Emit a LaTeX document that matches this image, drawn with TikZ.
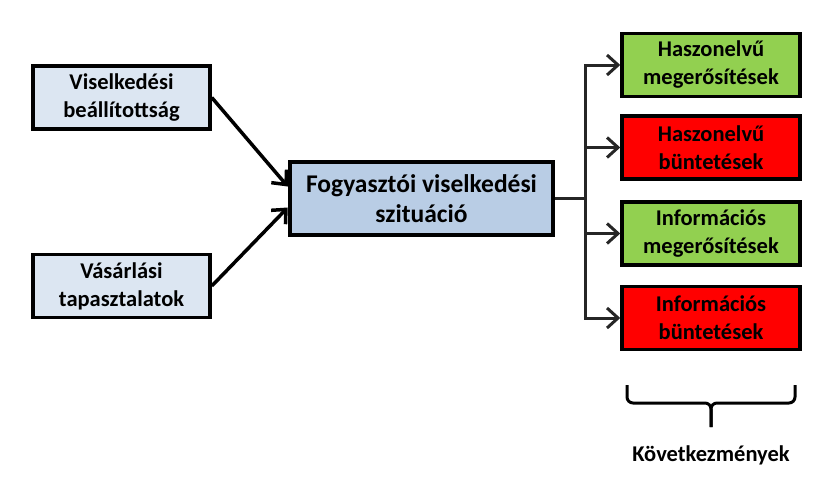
\documentclass[tikz,border=0pt]{standalone}
\usepackage{fontspec}
\setmainfont{Carlito}
\usetikzlibrary{arrows.meta,calc}
\definecolor{inputblue}{RGB}{220,230,242}
\definecolor{sitblue}{RGB}{185,205,229}
\definecolor{rewgreen}{RGB}{146,208,80}
\definecolor{punred}{RGB}{255,0,0}
\definecolor{linegray}{RGB}{38,38,38}

\begin{document}
\begin{tikzpicture}[x=1pt,y=-1pt,
  inbox/.style={draw=black, line width=3.5pt, fill=inputblue, minimum width=177pt, minimum height=63pt, inner sep=0pt, align=center, font=\fontsize{22.5}{28}\selectfont\bfseries},
  sitbox/.style={draw=black, line width=4.5pt, fill=sitblue, minimum width=263pt, minimum height=73pt, inner sep=0pt, align=center, font=\fontsize{25.5}{30}\selectfont\bfseries},
  outbox/.style={draw=black, line width=3.5pt, minimum width=178pt, minimum height=63pt, inner sep=0pt, align=center, font=\fontsize{22.5}{28}\selectfont\bfseries},
  inarrow/.style={draw=black, line width=3.5pt, -{Straight Barb[length=11pt,width=20pt]}},
  link/.style={draw=linegray, line width=3pt},
  outarrow/.style={link, -{Straight Barb[length=11pt,width=20pt]}}]
\useasboundingbox (0,0) rectangle (837,491);
% inputs
\node[inbox] (att) at (121.5,97.5) {Viselkedési\\beállítottság};
\node[inbox] (exp) at (121.5,286) {Vásárlási\\tapasztalatok};
% situation
\node[sitbox] (sit) at (421.5,198.5) {Fogyasztói viselkedési\\szituáció};
% consequences
\node[outbox, fill=rewgreen] (r1) at (711,65) {Haszonelvű\\megerősítések};
\node[outbox, fill=punred] (r2) at (711,147.5) {Haszonelvű\\büntetések};
\node[outbox, fill=rewgreen] (r3) at (711,233.5) {Információs\\megerősítések};
\node[outbox, fill=punred] (r4) at (711,318) {Információs\\büntetések};
\draw[inarrow] (att.east) -- ($(sit.west)+(0,-12)$);
\draw[inarrow] (exp.east) -- ($(sit.west)+(0,9)$);
\coordinate (split) at (585,198.5);
\draw[link] (sit.east) -- (split);
\draw[link, line cap=rect] (split |- r1) -- (split |- r4);
\foreach \n in {r1,r2,r3,r4}
  \draw[outarrow] (split |- \n) -- (\n.west);
% brace
\draw[line width=3pt, rounded corners=6pt] (627,385) -- (627,403) -- (711,403) -- (711,427);
\draw[line width=3pt, rounded corners=6pt] (711,427) -- (711,403) -- (795,403) -- (795,385);
\node[font=\fontsize{22.5}{26}\selectfont\bfseries] (cons) at (711,455) {Következmények};
\end{tikzpicture}
\end{document}
